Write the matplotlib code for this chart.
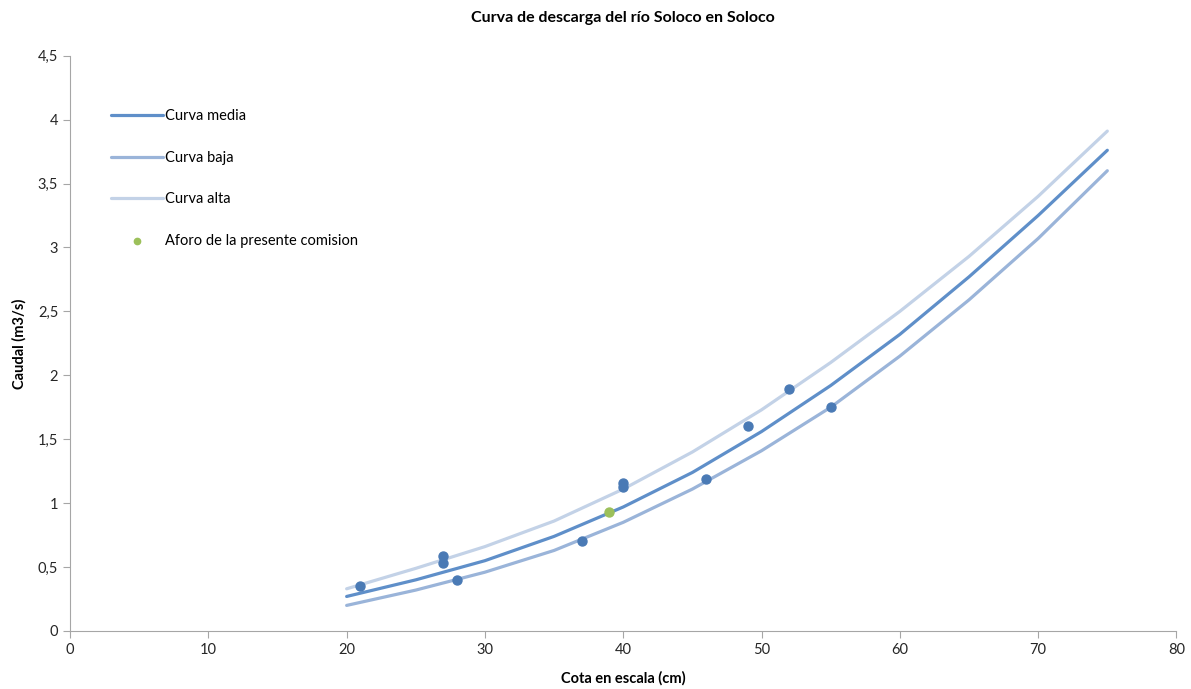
import matplotlib.pyplot as plt
from matplotlib.ticker import FuncFormatter, MultipleLocator

plt.rcParams['font.family'] = ['Lato', 'DejaVu Sans']

# curvas (cota cm -> caudal m3/s)
cota = [20, 25, 30, 35, 40, 45, 50, 55, 60, 65, 70, 75]
curva_media = [0.27, 0.40, 0.55, 0.74, 0.97, 1.24, 1.56, 1.92, 2.32, 2.77, 3.25, 3.76]
curva_baja = [0.20, 0.32, 0.46, 0.63, 0.85, 1.11, 1.41, 1.75, 2.15, 2.59, 3.07, 3.60]
curva_alta = [0.33, 0.49, 0.66, 0.86, 1.11, 1.40, 1.73, 2.10, 2.50, 2.93, 3.40, 3.91]

# aforos
aforo_cota = [21, 27, 27, 28, 37, 40, 40, 46, 49, 52, 55]
aforo_q = [0.35, 0.59, 0.53, 0.40, 0.70, 1.16, 1.13, 1.19, 1.60, 1.89, 1.75]
comision_cota = [39]
comision_q = [0.93]

fig = plt.figure(figsize=(11.91, 6.89), dpi=100)
ax = fig.add_axes([0.0588, 0.0842, 0.929, 0.835])

ax.plot(cota, curva_media, color='#5f8fc9', lw=2.3, label='Curva media', solid_capstyle='round', zorder=3)
ax.plot(cota, curva_baja, color='#9ab4d9', lw=2.3, label='Curva baja', solid_capstyle='round', zorder=2)
ax.plot(cota, curva_alta, color='#c3d2e7', lw=2.3, label='Curva alta', solid_capstyle='round', zorder=2)
ax.scatter(aforo_cota, aforo_q, s=42, color='#4a7ab5', zorder=4)
ax.scatter(comision_cota, comision_q, s=42, color='#9cc05a', zorder=5,
           label='Aforo de la presente comision')

ax.set_xlim(0, 80)
ax.set_ylim(0, 4.5)
ax.xaxis.set_major_locator(MultipleLocator(10))
ax.yaxis.set_major_locator(MultipleLocator(0.5))
ax.yaxis.set_major_formatter(FuncFormatter(lambda v, p: ('%g' % v).replace('.', ',')))

for s in ['top', 'right']:
    ax.spines[s].set_visible(False)
for s in ['left', 'bottom']:
    ax.spines[s].set_color('#a6a6a6')
ax.tick_params(colors='#a6a6a6', labelcolor='#262626', labelsize=10.5, length=5)

ax.set_title('Curva de descarga del río Soloco en Soloco', fontsize=11.5, fontweight='bold', pad=24)
ax.set_xlabel('Cota en escala (cm)', fontsize=10.5, fontweight='bold', labelpad=10)
ax.set_ylabel('Caudal (m3/s)', fontsize=10.5, fontweight='bold', labelpad=8)

ax.legend(loc='upper left', bbox_to_anchor=(0.025, 0.93), frameon=False, fontsize=10.5,
          handlelength=3.6, handletextpad=0.1, labelspacing=1.9, markerscale=0.7)

fig.savefig('out.png', dpi=100)
